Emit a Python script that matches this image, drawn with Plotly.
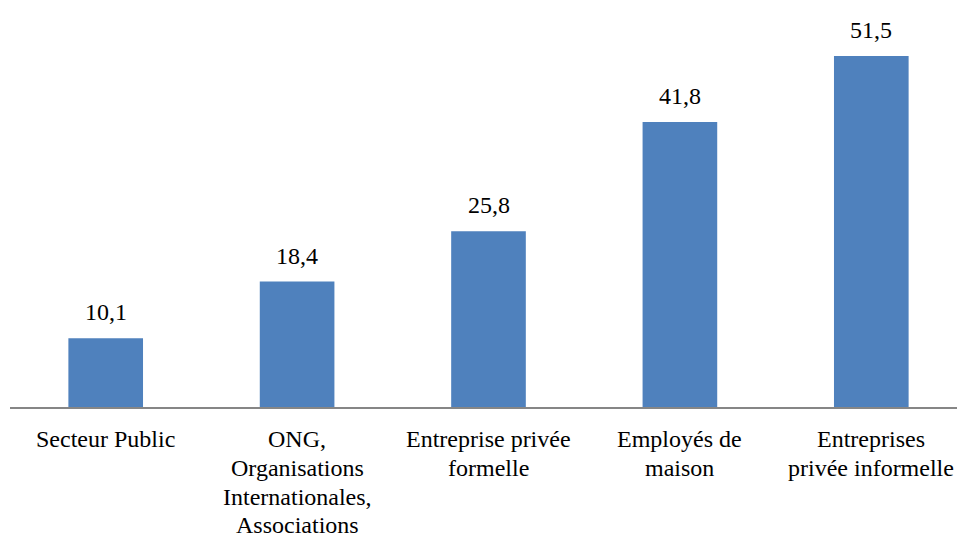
import plotly.graph_objects as go

categories = ["Secteur Public",
              "ONG,<br>Organisations<br>Internationales,<br>Associations",
              "Entreprise privée<br>formelle",
              "Employés de<br>maison",
              "Entreprises<br>privée informelle"]
values = [10.1, 18.4, 25.8, 41.8, 51.5]
labels = ["10,1", "18,4", "25,8", "41,8", "51,5"]

font = "Liberation Serif, Times New Roman, serif"
fsize = 24

fig = go.Figure(go.Bar(
    x=categories, y=values,
    marker=dict(color="#4F81BD", line=dict(width=0)),
    hoverinfo="skip",
))
# value labels above bars
for c, v, t in zip(categories, values, labels):
    fig.add_annotation(x=c, y=v, text=t, showarrow=False, yanchor="middle",
                       yshift=26, font=dict(family=font, size=fsize, color="black"))
# category labels below the axis, one line each (tight line spacing)
for c in categories:
    for i, line in enumerate(c.split("<br>")):
        fig.add_annotation(x=c, y=0, text=line, showarrow=False, yanchor="middle",
                           yshift=-(32 + 28.8 * i),
                           font=dict(family=font, size=fsize, color="black"))
fig.update_layout(
    width=965, height=540,
    margin=dict(l=2, r=6, t=0, b=141),
    paper_bgcolor="white", plot_bgcolor="white",
    bargap=0.61, showlegend=False,
    font=dict(family=font, size=fsize, color="black"),
)
fig.update_xaxes(showline=True, linecolor="#868686", linewidth=2,
                 showticklabels=False, ticks="",
                 automargin=False,
                 showgrid=False, zeroline=False, fixedrange=True)
fig.update_yaxes(range=[0, 58.54], visible=False, showgrid=False, zeroline=False,
                 automargin=False, fixedrange=True)
fig.write_html("out.html")
